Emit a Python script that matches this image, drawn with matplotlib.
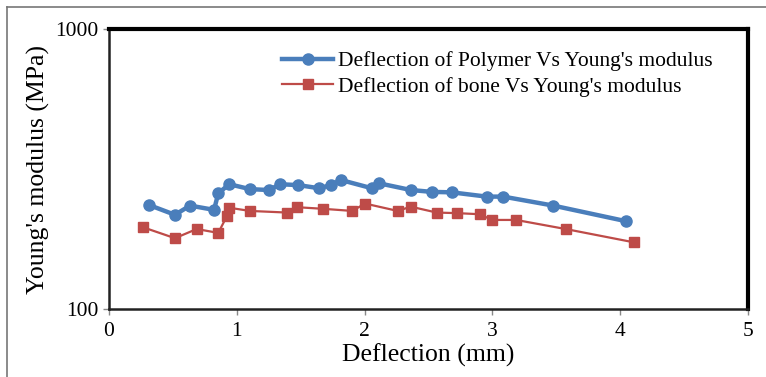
import numpy as np
import matplotlib.pyplot as plt
from matplotlib.ticker import FixedLocator, NullLocator, FixedFormatter

polymer_x = [0.315, 0.516, 0.634, 0.822, 0.855, 0.941, 1.103, 1.252, 1.338, 1.481, 1.643,
             1.737, 1.813, 2.056, 2.115, 2.363, 2.525, 2.682, 2.955, 3.085, 3.477, 4.043]
polymer_y = [235, 217, 234, 226, 259, 279, 268, 266, 279, 277, 270,
             277, 289, 270, 281, 266, 262, 261, 252, 252, 234, 206]

bone_x = [0.264, 0.516, 0.686, 0.855, 0.921, 0.939, 1.103, 1.395, 1.469, 1.672, 1.904,
          2.003, 2.259, 2.361, 2.564, 2.720, 2.903, 2.995, 3.185, 3.574, 4.108]
bone_y = [196, 179, 193, 187, 214, 230, 224, 221, 231, 228, 224,
          238, 224, 232, 221, 220, 218, 208, 208, 193, 173]

x_ticks = [0, 1, 2, 3, 4, 5]
y_ticks = [100, 1000]

plt.rcParams['font.family'] = ['Liberation Serif', 'DejaVu Serif']

fig = plt.figure(figsize=(7.66, 3.77), dpi=100)
ax = fig.add_axes([109/766, 1 - 309/377, (748-109)/766, (309-29)/377])

ax.plot(polymer_x, polymer_y, color='#4A7EBB', lw=3.2, marker='o', ms=8,
        label="Deflection of Polymer Vs Young's modulus")
ax.plot(bone_x, bone_y, color='#BE4B48', lw=1.6, marker='s', ms=7.5,
        label="Deflection of bone Vs Young's modulus")

ax.set_yscale('log')
ax.set_xlim(0, 5)
ax.set_ylim(100, 1000)
ax.set_xticks(x_ticks)
ax.yaxis.set_major_locator(FixedLocator(y_ticks))
ax.yaxis.set_major_formatter(FixedFormatter([str(v) for v in y_ticks]))
ax.yaxis.set_minor_locator(NullLocator())
ax.tick_params(labelsize=15.5, length=4, color='#888888', width=1)
ax.tick_params(axis='x', pad=5)

for s in ['top', 'right']:
    ax.spines[s].set_linewidth(3)
for s in ['left', 'bottom']:
    ax.spines[s].set_linewidth(1.8)
    ax.spines[s].set_color('#222222')

ax.set_xlabel('Deflection (mm)', fontsize=18.5)
ax.xaxis.set_label_coords(0.5, -0.165)
ax.xaxis.label.set_va('center')
ax.set_ylabel("Young's modulus (MPa)", fontsize=18.5, labelpad=4)

ax.legend(loc='upper left', bbox_to_anchor=(0.24, 0.99), frameon=False,
          fontsize=15.5, handlelength=2.4, handletextpad=0.2, labelspacing=0.25)

fig.add_artist(plt.Line2D([7/766, 7/766], [0, 1 - 7/377], color='#777777', lw=1.2))
fig.add_artist(plt.Line2D([7/766, 1], [1 - 7/377, 1 - 7/377], color='#777777', lw=1.2))

fig.savefig('out.png', dpi=100)
